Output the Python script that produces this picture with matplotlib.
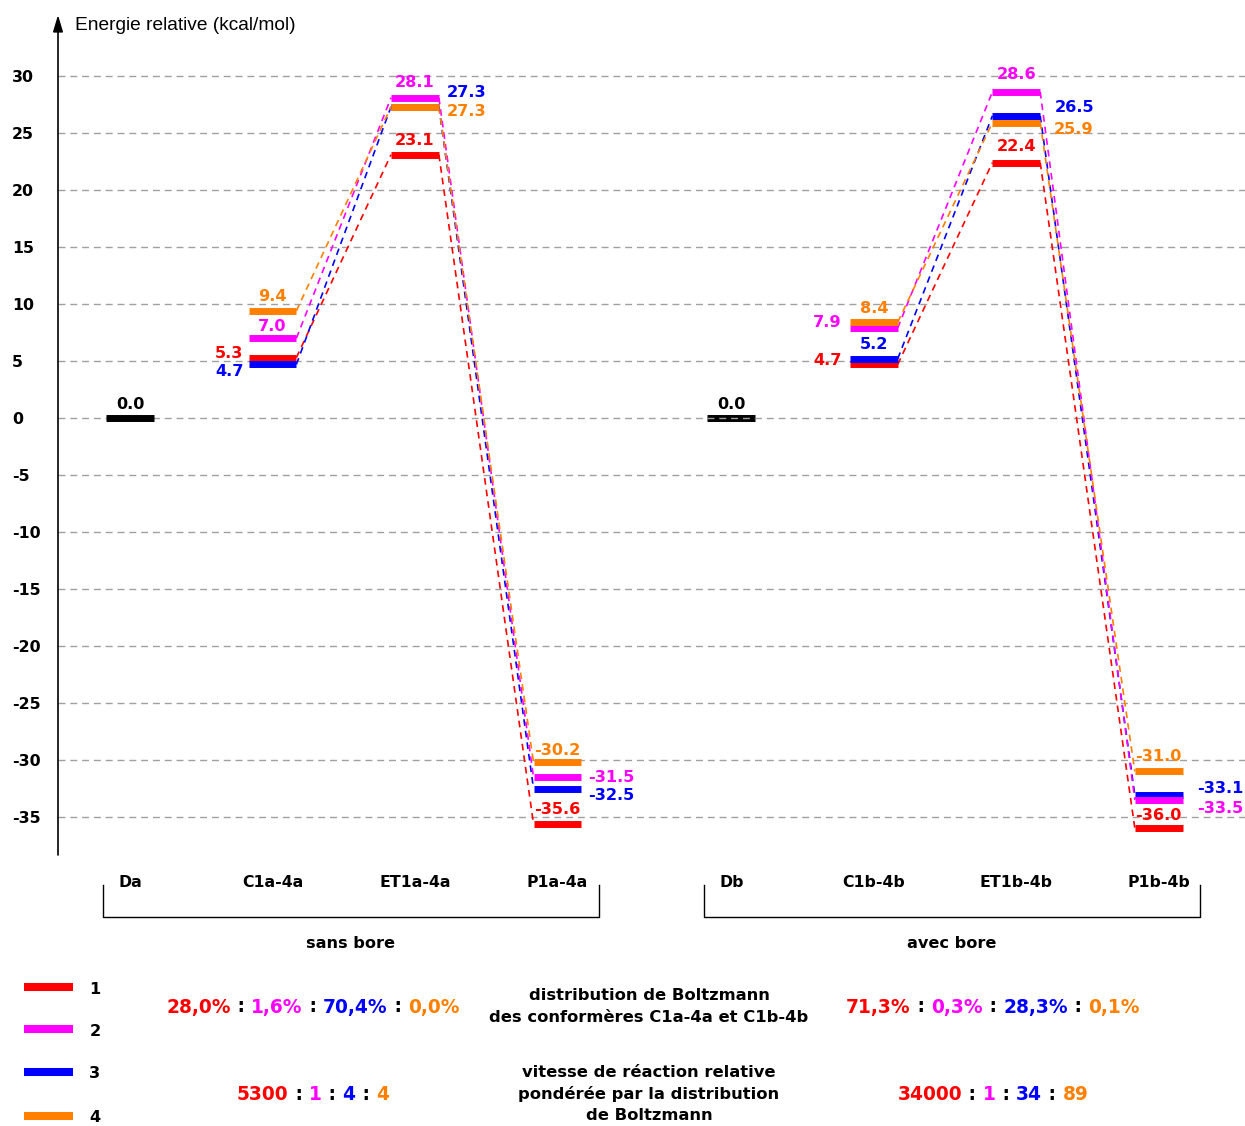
import matplotlib
matplotlib.use("Agg")
import matplotlib.pyplot as plt
from matplotlib.lines import Line2D
from matplotlib.offsetbox import TextArea, HPacker, AnnotationBbox

plt.rcParams['font.family'] = ['Liberation Sans', 'DejaVu Sans']

# ---------------- data ----------------
states_a = ["Da", "C1a-4a", "ET1a-4a", "P1a-4a"]
states_b = ["Db", "C1b-4b", "ET1b-4b", "P1b-4b"]
group_names = ["sans bore", "avec bore"]
d_energy = [0.0, 0.0]

# energies (kcal/mol) of conformers 1-4 at C, ET, P
e_a_1 = [5.3, 23.1, -35.6]
e_a_2 = [7.0, 28.1, -31.5]
e_a_3 = [4.7, 27.3, -32.5]
e_a_4 = [9.4, 27.3, -30.2]
e_b_1 = [4.7, 22.4, -36.0]
e_b_2 = [7.9, 28.6, -33.5]
e_b_3 = [5.2, 26.5, -33.1]
e_b_4 = [8.4, 25.9, -31.0]

conformers = ["1", "2", "3", "4"]
boltz_a = ["28,0%", "1,6%", "70,4%", "0,0%"]
boltz_b = ["71,3%", "0,3%", "28,3%", "0,1%"]
rate_a = ["5300", "1", "4", "4"]
rate_b = ["34000", "1", "34", "89"]
yticks = list(range(-35, 31, 5))

# ---------------- style ----------------
BOLD = dict(family="DejaVu Sans", fontweight="bold")
colors = {"1": "#ff0000", "2": "#ff00ff", "3": "#0000ff", "4": "#ff8000"}
draw_order = ["1", "3", "2", "4"]
x_a = [0, 1, 2, 3]
x_b = [4.22, 5.22, 6.22, 7.22]
hw = 0.168  # half width of a level bar

# label placement: (mode, dx px, dy px)  c=centered above, l=left of bar, r=right of bar
place_a = {
    "1": [("l", 5, 4), ("c", 0, 14), ("c", 0, 14)],
    "2": [("c", 0, 12), ("c", 0, 15), ("r", 7, 0)],
    "3": [("l", 5, -7), ("r", 8, 14), ("r", 7, -7)],
    "4": [("c", 0, 14), ("r", 8, -5), ("c", 0, 12)],
}
place_b = {
    "1": [("l", 8, 4), ("c", 0, 16), ("c", 0, 13)],
    "2": [("l", 8, 5), ("c", 0, 17), ("r", 14, -9)],
    "3": [("c", 0, 14), ("r", 15, 8), ("r", 14, 7)],
    "4": [("c", 0, 14), ("r", 14, -7), ("c", 0, 15)],
}

W, H = 1245, 1126
fig = plt.figure(figsize=(W / 100, H / 100), dpi=100)
# axes from x=58 px to right edge, y from 15 px to 855 px
ax = fig.add_axes([58 / W, 1 - 855 / H, 1 - 58 / W, (855 - 15) / H])
ax.set_xlim(-0.505, 7.825)
ax.set_ylim(-38.33, 35.35)

for s in ["top", "right", "bottom", "left"]:
    ax.spines[s].set_visible(False)
ax.set_xticks([])
ax.set_yticks(yticks)
ax.set_yticklabels([str(t) for t in yticks], fontsize=11.3, **BOLD)
for t in ax.get_yticklabels():
    t.set_horizontalalignment("left")
ax.tick_params(axis="y", length=0, pad=33)
ax.yaxis.grid(True, color="#a0a0a0", linestyle=(0, (5, 3.5)), linewidth=1.0)
ax.set_axisbelow(True)

# vertical axis with arrow
ax.annotate("", xy=(0, 1), xytext=(0, 0), xycoords="axes fraction",
            arrowprops=dict(arrowstyle="-|>,head_length=1.0,head_width=0.3",
                            color="black", lw=1.2, shrinkA=0, shrinkB=0))
fig.text(75 / W, 1 - 25 / H, "Energie relative (kcal/mol)", fontsize=13.8,
         ha="left", va="center")


def label(x, y, text, color, mode, dx, dy):
    kw = dict(textcoords="offset pixels", va="center", color=color,
              fontsize=11.6, zorder=6, **BOLD)
    if mode == "c":
        ax.annotate(text, xy=(x, y), xytext=(dx, dy), ha="center", **kw)
    elif mode == "l":
        ax.annotate(text, xy=(x - hw, y), xytext=(-dx, dy), ha="right", **kw)
    else:
        ax.annotate(text, xy=(x + hw, y), xytext=(dx, dy), ha="left", **kw)


def draw_group(xs, states, energies, place, d_val, overlay):
    # reference level D
    ax.plot([xs[0] - hw, xs[0] + hw], [d_val, d_val], color="black", lw=5,
            solid_capstyle="butt", zorder=4)
    label(xs[0], d_val, f"{d_val:.1f}", "black", "c", 0, 14)
    if overlay:
        ax.plot([xs[0] - hw, xs[0] + hw], [d_val, d_val], color="#a0a0a0",
                lw=1.0, linestyle=(0, (5, 3.5)), zorder=5)
    for k, c in enumerate(draw_order):
        e = energies[c]
        col = colors[c]
        z = 4 + k * 0.1
        # dashed connectors C -> ET -> P
        for i in range(2):
            ax.plot([xs[i + 1] + hw, xs[i + 2] - hw], [e[i], e[i + 1]], color=col,
                    lw=1.2, linestyle=(0, (4, 3)), zorder=3)
        for i in range(3):
            ax.plot([xs[i + 1] - hw, xs[i + 1] + hw], [e[i], e[i]], color=col, lw=5,
                    solid_capstyle="butt", zorder=z)
            mode, dx, dy = place[c][i]
            label(xs[i + 1], e[i], f"{e[i]:.1f}", col, mode, dx, dy)
    # state names
    for x, s in zip(xs, states):
        ax.text(x, -40.7, s, ha="center", va="center", fontsize=11.3,
                clip_on=False, **BOLD)


draw_group(x_a, states_a, {"1": e_a_1, "2": e_a_2, "3": e_a_3, "4": e_a_4},
           place_a, d_energy[0], False)
draw_group(x_b, states_b, {"1": e_b_1, "2": e_b_2, "3": e_b_3, "4": e_b_4},
           place_b, d_energy[1], True)

# group brackets
for xs, name in zip([x_a, x_b], group_names):
    x0, x1 = xs[0] - 0.19, xs[-1] + 0.29
    ax.plot([x0, x0, x1, x1], [-40.96, -43.77, -43.77, -40.96], color="black",
            lw=1.0, clip_on=False)
    ax.text((x0 + x1) / 2, -46.05, name, ha="center", va="center", fontsize=11.6,
            clip_on=False, **BOLD)

# legend
leg_y = [987, 1029, 1072, 1116]
for c, y in zip(conformers, leg_y):
    fig.add_artist(Line2D([24 / W, 73 / W], [1 - y / H, 1 - y / H], color=colors[c],
                          lw=5.8, solid_capstyle="butt"))
    fig.text(95 / W, 1 - (y + 2) / H, c, fontsize=11.6, ha="center", va="center",
             **BOLD)


def ratio(values, xpx, ypx):
    parts = []
    for i, (c, v) in enumerate(zip(conformers, values)):
        if i > 0:
            parts.append(TextArea(" : ", textprops=dict(color="black", fontsize=13.4,
                                                         **BOLD)))
        parts.append(TextArea(v, textprops=dict(color=colors[c], fontsize=13.4,
                                                **BOLD)))
    box = HPacker(children=parts, align="baseline", pad=0, sep=0)
    ab = AnnotationBbox(box, (xpx / W, 1 - ypx / H), xycoords="figure fraction",
                        frameon=False, box_alignment=(0.5, 0.5), pad=0,
                        annotation_clip=False)
    fig.add_artist(ab)


ratio(boltz_a, 313, 1007)
ratio(boltz_b, 993, 1007)
ratio(rate_a, 313, 1095)
ratio(rate_b, 993, 1095)

fig.text(649 / W, 1 - 1006.5 / H,
         "distribution de Boltzmann\ndes conformères C1a-4a et C1b-4b",
         ha="center", va="center", fontsize=11.8, linespacing=1.5, **BOLD)
fig.text(649 / W, 1 - 1094 / H,
         "vitesse de réaction relative\npondérée par la distribution\nde Boltzmann",
         ha="center", va="center", fontsize=11.8, linespacing=1.5, **BOLD)

fig.savefig("out.png", dpi=100)
